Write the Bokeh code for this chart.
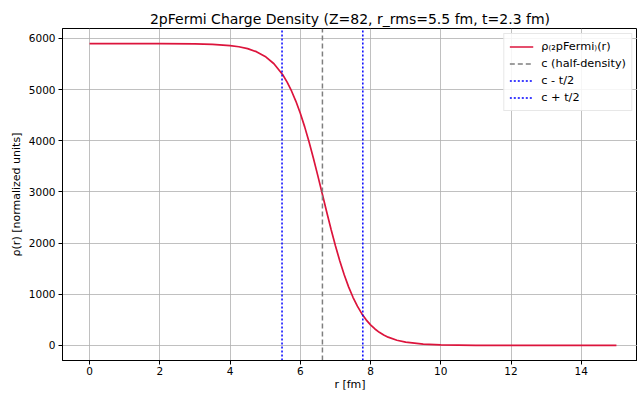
from bokeh.plotting import figure
from bokeh.models import Range1d, FixedTicker, Legend, LegendItem
from bokeh.embed import file_html
from bokeh.resources import INLINE

# radius [fm] and density values
r_vals = [0, 1, 2, 3, 3.5, 4, 4.25, 4.5, 4.75, 5, 5.25, 5.5, 5.625, 5.75, 5.875,
          6, 6.125, 6.25, 6.375, 6.5, 6.625, 6.75, 6.875, 7, 7.125, 7.25, 7.375,
          7.5, 7.625, 7.75, 7.875, 8, 8.125, 8.25, 8.375, 8.5, 8.75, 9, 9.5,
          10, 11, 12, 13, 14, 15]
rho_vals = [5900, 5900, 5899, 5894, 5885, 5861, 5838, 5801, 5742, 5649, 5506, 5290,
            5146, 4974, 4772, 4538, 4272, 3976, 3655, 3314, 2964, 2613, 2272, 1949,
            1650, 1382, 1145, 941, 767, 621, 500, 401, 321, 256, 203, 161, 101, 63,
            24, 9, 1.4, 0.2, 0, 0, 0]
c_half = 6.63
c_minus = 5.48
c_plus = 7.78
x_ticks = [0, 2, 4, 6, 8, 10, 12, 14]
y_ticks = [0, 1000, 2000, 3000, 4000, 5000, 6000]

FONT = "DejaVu Sans"

p = figure(width=637, height=394, output_backend="svg", toolbar_location=None,
           x_range=Range1d(-0.77, 15.6), y_range=Range1d(-295, 6195),
           min_border_left=62, min_border_right=0, min_border_top=28, min_border_bottom=34)

p.title.text = "2pFermi Charge Density (Z=82, r_rms=5.5 fm, t=2.3 fm)"
p.title.align = "center"
p.title.text_font = FONT
p.title.text_font_size = "14px"
p.title.text_font_style = "normal"
p.title.text_color = "#000000"
p.title.standoff = 4

p.outline_line_color = "#000000"
p.outline_line_width = 1
p.background_fill_color = "white"
p.border_fill_color = "white"

for ax in (p.xaxis[0], p.yaxis[0]):
    ax.major_label_text_font = FONT
    ax.major_label_text_font_size = "10.5px"
    ax.major_label_text_color = "#000000"
    ax.axis_label_text_font = FONT
    ax.axis_label_text_font_size = "11px"
    ax.axis_label_text_font_style = "normal"
    ax.axis_label_text_color = "#000000"
    ax.axis_line_color = "#000000"
    ax.major_tick_line_color = "#000000"
    ax.major_tick_out = 4
    ax.major_tick_in = 0
    ax.minor_tick_line_color = None

p.xaxis.major_label_standoff = 2
p.xaxis.axis_label_standoff = 0
p.yaxis.major_label_standoff = 3
p.yaxis.axis_label_standoff = 3

p.xaxis.ticker = FixedTicker(ticks=x_ticks)
p.yaxis.ticker = FixedTicker(ticks=y_ticks)
p.xaxis.axis_label = "r [fm]"
p.yaxis.axis_label = "ρ(r) [normalized units]"

p.xgrid.ticker = FixedTicker(ticks=x_ticks)
p.ygrid.ticker = FixedTicker(ticks=y_ticks)
for g in (p.xgrid[0], p.ygrid[0]):
    g.grid_line_color = "#b0b0b0"
    g.grid_line_width = 0.8

main = p.line(r_vals, rho_vals, line_color="#DC143C", line_width=1.7)

y_lo, y_hi = -295, 6195
v1 = p.line([c_half, c_half], [y_lo, y_hi], line_color="#7f7f7f", line_width=1.5, line_dash="5 3")
v2 = p.line([c_minus, c_minus], [y_lo, y_hi], line_color="#0000ff", line_width=1.5, line_dash="2 2")
v3 = p.line([c_plus, c_plus], [y_lo, y_hi], line_color="#0000ff", line_width=1.5, line_dash="2 2")

legend = Legend(items=[
    LegendItem(label="ρ₍₂pFermi₎(r)", renderers=[main]),
    LegendItem(label="c (half-density)", renderers=[v1]),
    LegendItem(label="c - t/2", renderers=[v2]),
    LegendItem(label="c + t/2", renderers=[v3]),
], location="top_right")
legend.label_text_font = FONT
legend.label_text_font_size = "11.3px"
legend.label_text_color = "#000000"
legend.label_height = 15
legend.glyph_height = 15
legend.glyph_width = 24
legend.label_standoff = 8
legend.spacing = 2
legend.padding = 5
legend.margin = 5
legend.border_line_color = "#d0d0d0"
legend.border_line_width = 1
legend.background_fill_alpha = 0.85
p.add_layout(legend)

open("out.html", "w").write(file_html(p, INLINE))
